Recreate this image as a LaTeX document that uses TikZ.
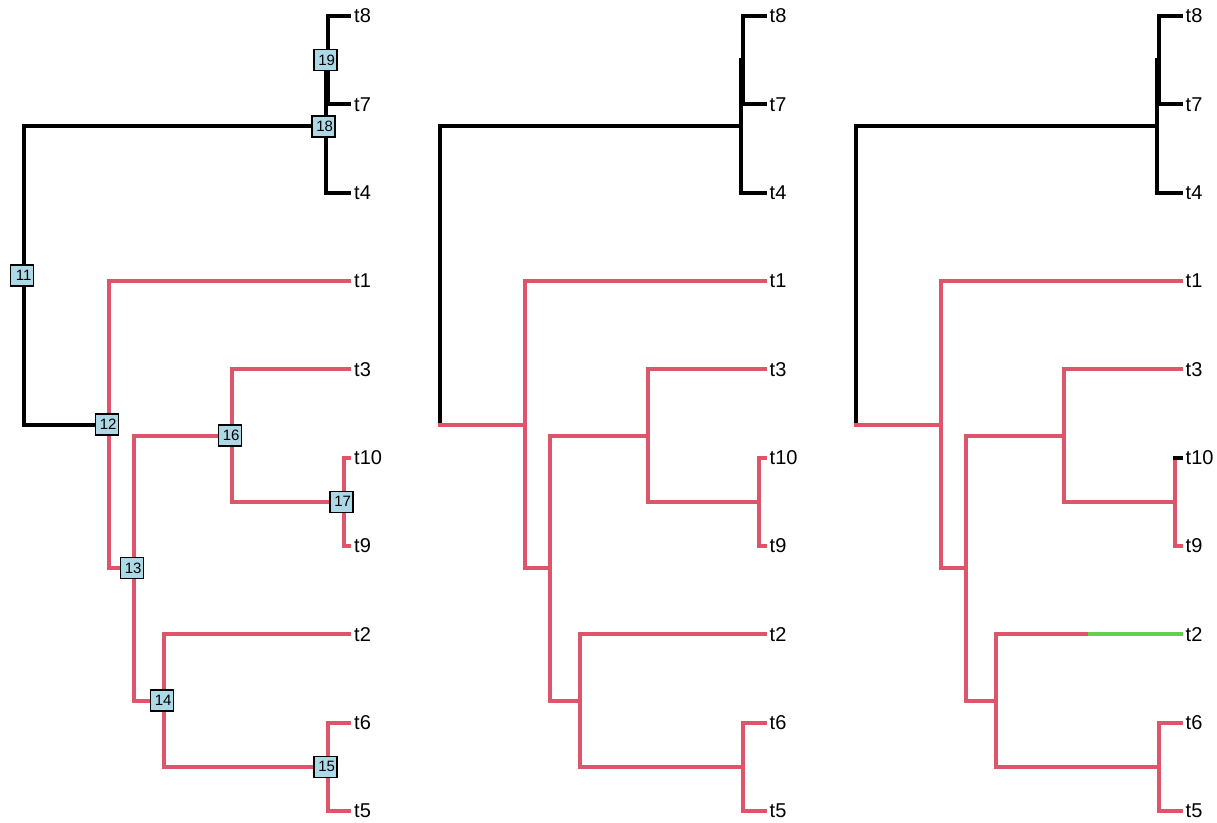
\documentclass[tikz,border=0pt]{standalone}
\usepackage{fontspec}
\setmainfont{Liberation Sans}
\definecolor{pr}{HTML}{DF536B}
\definecolor{gr}{HTML}{61D04F}
\definecolor{lb}{HTML}{ADD8E6}
\tikzset{
  br/.style={line width=4pt, line cap=rect},
  tiplab/.style={anchor=west, inner sep=0pt, font=\fontsize{20}{20}\selectfont},
  nodelab/.style={draw=black, fill=lb, line width=1.4pt, text width=19pt, align=right,
    inner xsep=2pt, inner ysep=0pt, minimum height=21pt, font=\fontsize{15}{15}\selectfont}
}
\newcommand\defcoords[1]{%
  \coordinate (#1n11) at (24,275.4);
  \coordinate (#1n18) at (325.5,126.3);
  \coordinate (#1n19) at (327.5,60.2);
  \coordinate (#1n12) at (109,424.6);
  \coordinate (#1n13) at (134,568.1);
  \coordinate (#1n16) at (232,435.6);
  \coordinate (#1n17) at (343.5,501.8);
  \coordinate (#1n14) at (164,700.6);
  \coordinate (#1n15) at (327.5,766.8);
  \coordinate (#1t8) at (349,16);
  \coordinate (#1t7) at (349,104.3);
  \coordinate (#1t4) at (349,192.7);
  \coordinate (#1t1) at (349,281);
  \coordinate (#1t3) at (349,369.3);
  \coordinate (#1t10) at (349,457.7);
  \coordinate (#1t9) at (349,546);
  \coordinate (#1t2) at (349,634.3);
  \coordinate (#1t6) at (349,722.7);
  \coordinate (#1t5) at (349,811);
  \node[tiplab] (#1l8) at (354,16) {t8};
  \node[tiplab] (#1l7) at (354,104.3) {t7};
  \node[tiplab] (#1l4) at (354,192.7) {t4};
  \node[tiplab] (#1l1) at (354,281) {t1};
  \node[tiplab] (#1l3) at (354,369.3) {t3};
  \node[tiplab] (#1l10) at (354,457.7) {t10};
  \node[tiplab] (#1l9) at (354,546) {t9};
  \node[tiplab] (#1l2) at (354,634.3) {t2};
  \node[tiplab] (#1l6) at (354,722.7) {t6};
  \node[tiplab] (#1l5) at (354,811) {t5};
}
% vertical at node #2 between children #3 and #4
\newcommand\vrt[4]{\draw[br,#1] (#2 |- #3) -- (#2 |- #4);}
% horizontal from parent #2 to child #3
\newcommand\hrz[3]{\draw[br,#1] (#2 |- #3) -- (#3);}
\newcommand\verticals[1]{%
  \vrt{black}{#1n11}{#1n18}{#1n12}
  \vrt{black}{#1n18}{#1n19}{#1t4}
  \vrt{black}{#1n19}{#1t8}{#1t7}
  \vrt{pr}{#1n12}{#1t1}{#1n13}
  \vrt{pr}{#1n13}{#1n16}{#1n14}
  \vrt{pr}{#1n16}{#1t3}{#1n17}
  \vrt{pr}{#1n17}{#1t10}{#1t9}
  \vrt{pr}{#1n14}{#1t2}{#1n15}
  \vrt{pr}{#1n15}{#1t6}{#1t5}
}
\newcommand\commonh[1]{%
  \hrz{black}{#1n11}{#1n18}
  \hrz{black}{#1n18}{#1n19}
  \hrz{black}{#1n18}{#1t4}
  \hrz{black}{#1n19}{#1t8}
  \hrz{black}{#1n19}{#1t7}
  \hrz{pr}{#1n12}{#1t1}
  \hrz{pr}{#1n12}{#1n13}
  \hrz{pr}{#1n13}{#1n16}
  \hrz{pr}{#1n13}{#1n14}
  \hrz{pr}{#1n16}{#1t3}
  \hrz{pr}{#1n16}{#1n17}
  \hrz{pr}{#1n17}{#1t9}
  \hrz{pr}{#1n14}{#1n15}
  \hrz{pr}{#1n15}{#1t6}
  \hrz{pr}{#1n15}{#1t5}
}
\begin{document}
\begin{tikzpicture}[x=1pt,y=-1pt]
\useasboundingbox (0,0) rectangle (1217,822);
% ---- tree 1
\begin{scope}
  \defcoords{a}
  \verticals{a}
  \commonh{a}
  \hrz{black}{an11}{an12}
  \hrz{pr}{an17}{at10}
  \hrz{pr}{an14}{at2}
  \node[nodelab] (lab11) at ([xshift=-2pt]an11) {11};
  \node[nodelab] (lab12) at ([xshift=-2pt]an12) {12};
  \node[nodelab] (lab13) at ([xshift=-2pt]an13) {13};
  \node[nodelab] (lab14) at ([xshift=-2pt]an14) {14};
  \node[nodelab] (lab15) at ([xshift=-2pt]an15) {15};
  \node[nodelab] (lab16) at ([xshift=-2pt]an16) {16};
  \node[nodelab] (lab17) at ([xshift=-2pt]an17) {17};
  \node[nodelab] (lab18) at ([xshift=-2pt]an18) {18};
  \node[nodelab] (lab19) at ([xshift=-2pt]an19) {19};
\end{scope}
% ---- tree 2
\begin{scope}[xshift=415.5pt]
  \defcoords{b}
  \verticals{b}
  \commonh{b}
  \hrz{pr}{bn11}{bn12}
  \hrz{pr}{bn17}{bt10}
  \hrz{pr}{bn14}{bt2}
\end{scope}
% ---- tree 3
\begin{scope}[xshift=831.5pt]
  \defcoords{c}
  \coordinate (cg) at (258,634.3);
  \verticals{c}
  \commonh{c}
  \hrz{pr}{cn11}{cn12}
  \hrz{black}{cn17}{ct10}
  \draw[br,pr] (cn14 |- ct2) -- (cg);
  \draw[br,gr] (cg) -- (ct2);
\end{scope}
\end{tikzpicture}
\end{document}
